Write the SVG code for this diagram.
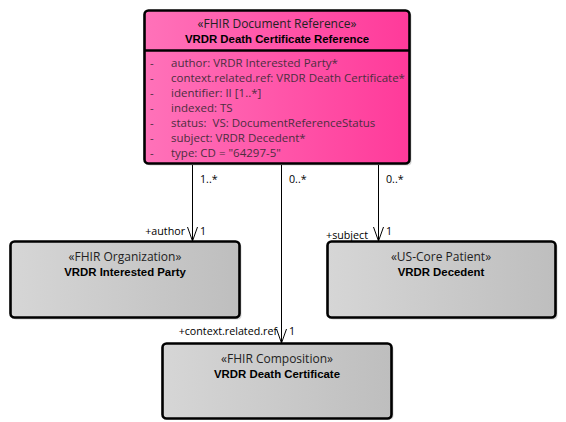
<svg xmlns="http://www.w3.org/2000/svg" width="566" height="422" viewBox="0 0 566 422">
<defs>
  <linearGradient id="pink" x1="0" y1="0" x2="1" y2="0">
    <stop offset="0" stop-color="#FF72B9"/>
    <stop offset="1" stop-color="#FF3A9A"/>
  </linearGradient>
  <linearGradient id="gray" x1="0" y1="0" x2="1" y2="0">
    <stop offset="0" stop-color="#D6D6D6"/>
    <stop offset="1" stop-color="#BEBEBE"/>
  </linearGradient>
</defs>
<style>
  .box { stroke:#000; stroke-width:2.6; }
  .shadow { fill:#000; opacity:0.16; }
  .st { font-family:"Open Sans", "Liberation Sans", sans-serif; font-size:12px; fill:#222; text-anchor:middle; }
  .nm { font-family:"Liberation Sans", Arial, sans-serif; font-size:11.4px; font-weight:bold; fill:#000; text-anchor:middle; }
  .at { font-family:"Open Sans", "Liberation Sans", sans-serif; font-size:11.5px; fill:#4d2e3f; }
  .lb { font-family:"Open Sans", "Liberation Sans", sans-serif; font-size:10.7px; fill:#000; }
  .conn { stroke:#000; stroke-width:1; fill:none; }
</style>
<rect width="566" height="422" fill="#fff"/>

<g id="connectors">
  <line class="conn" x1="192.5" y1="165" x2="192.5" y2="241"/>
  <path class="conn" d="M187.5,227 L192.5,241 L197.5,227"/>
  <line class="conn" x1="281.5" y1="165" x2="281.5" y2="343"/>
  <path class="conn" d="M276.5,329 L281.5,343 L286.5,329"/>
  <line class="conn" x1="378.5" y1="165" x2="378.5" y2="241"/>
  <path class="conn" d="M373.5,227 L378.5,241 L383.5,227"/>
  <text class="lb" x="200" y="183">1..*</text>
  <text class="lb" x="289" y="183">0..*</text>
  <text class="lb" x="386" y="183">0..*</text>
  <text class="lb" x="185" y="235" text-anchor="end">+author</text>
  <text class="lb" x="200" y="235">1</text>
  <text class="lb" x="368" y="239" text-anchor="end">+subject</text>
  <text class="lb" x="386" y="235">1</text>
  <text class="lb" x="277" y="335" text-anchor="end">+context.related.ref</text>
  <text class="lb" x="289" y="335">1</text>
</g>

<g id="vrdr-death-certificate-reference">
  <rect class="shadow" x="146.5" y="12.5" width="265" height="153" rx="4"/>
  <rect class="box" x="144.5" y="10.5" width="265" height="153" rx="4" fill="url(#pink)"/>
  <line x1="144.5" y1="50.5" x2="409.5" y2="50.5" stroke="#000" stroke-width="2.6"/>
  <text class="st" x="277" y="28">«FHIR Document Reference»</text>
  <text class="nm" x="277" y="43">VRDR Death Certificate Reference</text>
  <g class="at">
    <text x="150" y="67">-</text><text x="171" y="67">author: VRDR Interested Party*</text>
    <text x="150" y="82">-</text><text x="171" y="82">context.related.ref: VRDR Death Certificate*</text>
    <text x="150" y="97">-</text><text x="171" y="97">identifier: II [1..*]</text>
    <text x="150" y="112">-</text><text x="171" y="112">indexed: TS</text>
    <text x="150" y="127">-</text><text x="171" y="127" xml:space="preserve">status:  VS: DocumentReferenceStatus</text>
    <text x="150" y="142">-</text><text x="171" y="142">subject: VRDR Decedent*</text>
    <text x="150" y="157">-</text><text x="171" y="157">type: CD = "64297-5"</text>
  </g>
</g>

<g id="vrdr-interested-party">
  <rect class="shadow" x="12.5" y="243.5" width="229" height="76" rx="4"/>
  <rect class="box" x="10.5" y="241.5" width="229" height="76" rx="4" fill="url(#gray)"/>
  <text class="st" x="125" y="261">«FHIR Organization»</text>
  <text class="nm" x="125" y="276">VRDR Interested Party</text>
</g>

<g id="vrdr-decedent">
  <rect class="shadow" x="329.5" y="243.5" width="228" height="76" rx="4"/>
  <rect class="box" x="327.5" y="241.5" width="228" height="76" rx="4" fill="url(#gray)"/>
  <text class="st" x="441" y="261">«US-Core Patient»</text>
  <text class="nm" x="441" y="276">VRDR Decedent</text>
</g>

<g id="vrdr-death-certificate">
  <rect class="shadow" x="164.5" y="345.5" width="229" height="74" rx="4"/>
  <rect class="box" x="162.5" y="343.5" width="229" height="75" rx="4" fill="url(#gray)"/>
  <text class="st" x="277" y="363">«FHIR Composition»</text>
  <text class="nm" x="277" y="378">VRDR Death Certificate</text>
</g>
</svg>
